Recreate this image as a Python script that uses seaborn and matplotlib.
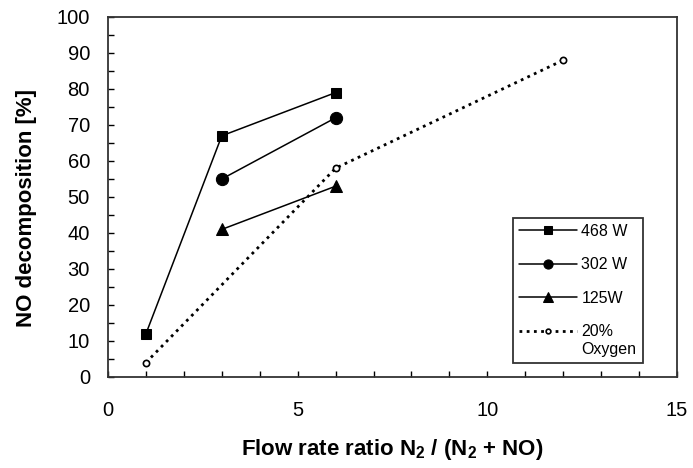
import matplotlib
matplotlib.use("Agg")
import matplotlib.pyplot as plt
import seaborn as sns
import numpy as np
from matplotlib.ticker import MultipleLocator

# ---- data ----
x_468 = [1, 3, 6]
y_468 = [12, 67, 79]
x_302 = [3, 6]
y_302 = [55, 72]
x_125 = [3, 6]
y_125 = [41, 53]
x_oxy = [1, 6, 12]
y_oxy = [4, 58, 88]
labels = ["468 W", "302 W", "125W", "20%\nOxygen"]
x_ticks = [0, 5, 10, 15]
y_ticks = list(range(0, 101, 10))

sns.set_theme(style="white")
plt.rcParams['font.family'] = ['Liberation Sans', 'DejaVu Sans']
plt.rcParams['mathtext.fontset'] = 'custom'
plt.rcParams['mathtext.rm'] = 'Liberation Sans:bold'
plt.rcParams['mathtext.it'] = 'Liberation Sans:bold'
plt.rcParams['mathtext.bf'] = 'Liberation Sans:bold'

fig = plt.figure(figsize=(6.93, 4.68), dpi=100)
ax = fig.add_axes([108/693, 1-377/468, (677-108)/693, (377-17)/468])

common = dict(ax=ax, color="black", linewidth=1.1, markeredgecolor="black")
sns.lineplot(x=x_468, y=y_468, marker="s", markersize=7.8, label=labels[0], **common)
sns.lineplot(x=x_302, y=y_302, marker="o", markersize=8.8, label=labels[1], **common)
sns.lineplot(x=x_125, y=y_125, marker="^", markersize=9, label=labels[2], **common)
sns.lineplot(x=x_oxy, y=y_oxy, marker="o", markersize=4.5, markerfacecolor="white",
             markeredgewidth=1.2, linestyle=(0, (1, 1.6)), label=labels[3],
             ax=ax, color="black", linewidth=2.0, markeredgecolor="black")

ax.set_xlim(0, 15)
ax.set_ylim(0, 100)
ax.set_xticks(x_ticks)
ax.set_yticks(y_ticks)
ax.xaxis.set_minor_locator(MultipleLocator(1))
ax.yaxis.set_minor_locator(MultipleLocator(5))
ax.tick_params(axis="both", which="both", direction="in", length=4, width=1,
               color="black", bottom=True, left=True, top=False, right=False)
ax.tick_params(axis="x", which="major", pad=17, labelsize=14.5, labelcolor="black")
ax.tick_params(axis="y", which="major", pad=13, labelsize=14.5, labelcolor="black")

for s in ax.spines.values():
    s.set_color("#333333")
    s.set_linewidth(1.3)
    s.set_visible(True)

ax.set_xlabel("Flow rate ratio N$_2$ / (N$_2$ + NO)", fontsize=16, fontweight="bold", color="black")
ax.set_ylabel("NO decomposition [%]", fontsize=16, fontweight="bold", color="black")
ax.xaxis.set_label_coords(0.5, -0.168)
ax.yaxis.set_label_coords(-0.125, 0.47)

leg = ax.legend(loc="lower right", bbox_to_anchor=(0.940, 0.039), borderaxespad=0,
                fontsize=11.5, frameon=True, fancybox=False, edgecolor="black",
                handlelength=3.6, handletextpad=0.3, labelspacing=1.15,
                borderpad=0.4, markerscale=0.75)
leg.get_frame().set_linewidth(1.3)
for t in leg.get_texts():
    t.set_color("black")
# align the last handle with the first line of its two-line label
h = leg.legend_handles[3]
h.set_ydata(np.asarray(h.get_ydata()) + 0.6 * 11.5)

fig.savefig("out.png", dpi=100, facecolor="white")
